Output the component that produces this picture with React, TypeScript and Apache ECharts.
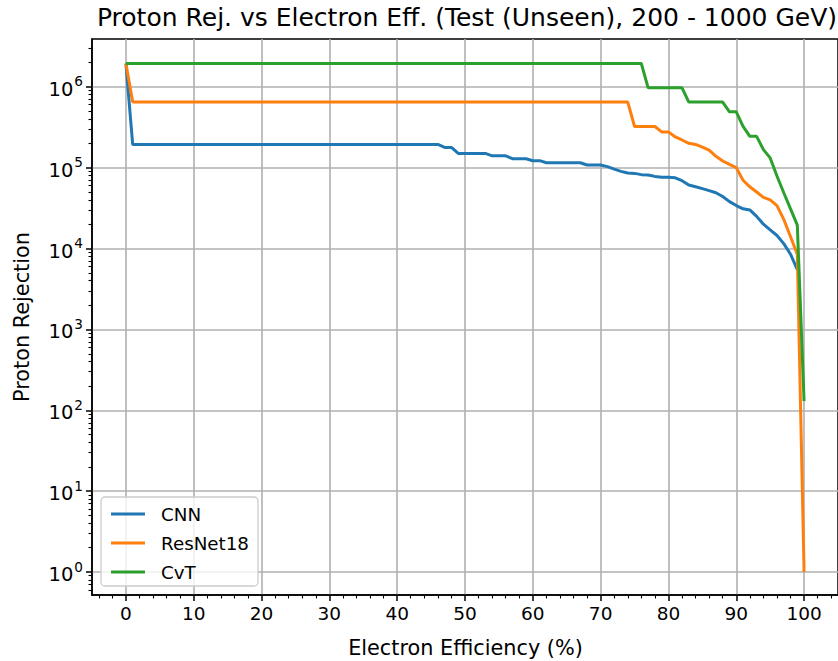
import React, { useEffect, useRef } from 'react';
import * as echarts from 'echarts';

const titleText = 'Proton Rej. vs Electron Eff. (Test (Unseen), 200 - 1000 GeV)';
const xName = 'Electron Efficiency (%)';
const yName = 'Proton Rejection';
const seriesNames = ['CNN', 'ResNet18', 'CvT'];
const seriesColors = ['#1f77b4', '#ff7f0e', '#2ca02c'];

// [electron efficiency %, proton rejection]
const cnnPoints = [
  [0, 1.94e6], [1, 1.94e5], [46, 1.94e5], [47, 1.78e5], [48, 1.78e5], [49, 1.5e5],
  [53, 1.5e5], [54, 1.4e5], [56, 1.4e5], [57, 1.29e5], [59, 1.29e5], [60, 1.22e5],
  [61, 1.22e5], [62, 1.15e5], [67, 1.15e5], [68, 1.08e5], [70, 1.08e5], [71, 1.03e5],
  [72, 9.6e4], [73, 9.0e4], [74, 8.6e4], [75, 8.5e4], [76, 8.2e4], [77, 8.1e4],
  [78, 7.8e4], [79, 7.6e4], [80, 7.6e4], [81, 7.5e4], [82, 6.9e4], [83, 6.1e4],
  [84, 5.8e4], [85, 5.5e4], [86, 5.2e4], [87, 4.9e4], [88, 4.4e4], [89, 3.8e4],
  [90, 3.4e4], [91, 3.1e4], [92, 3.0e4], [93, 2.5e4], [94, 2.0e4], [95, 1.7e4],
  [96, 1.45e4], [97, 1.15e4], [98, 8.5e3], [99, 5.5e3],
];
const resnetPoints = [
  [0, 1.94e6], [1, 6.47e5], [74, 6.47e5], [75, 3.23e5], [78, 3.23e5], [79, 2.77e5],
  [80, 2.77e5], [81, 2.4e5], [82, 2.2e5], [83, 2.0e5], [84, 1.94e5], [85, 1.8e5],
  [86, 1.65e5], [87, 1.38e5], [88, 1.21e5], [89, 1.1e5], [90, 1.0e5], [91, 7.0e4],
  [92, 5.8e4], [93, 5.0e4], [94, 4.3e4], [95, 4.0e4], [96, 3.4e4], [97, 2.3e4],
  [98, 1.4e4], [99, 8.5e3], [100, 1],
];
const cvtPoints = [
  [0, 1.94e6], [76, 1.94e6], [77, 9.7e5], [82, 9.7e5], [83, 6.47e5], [88, 6.47e5],
  [89, 4.9e5], [90, 4.9e5], [91, 3.24e5], [92, 2.44e5], [93, 2.44e5], [94, 1.67e5],
  [95, 1.32e5], [96, 7.9e4], [97, 4.9e4], [98, 3.1e4], [99, 1.95e4], [100, 130],
];

const xMajorTicks = [0, 10, 20, 30, 40, 50, 60, 70, 80, 90, 100];
const xMinorTicks = [-4, -2, 2, 4, 6, 8, 12, 14, 16, 18, 22, 24, 26, 28, 32, 34, 36, 38,
  42, 44, 46, 48, 52, 54, 56, 58, 62, 64, 66, 68, 72, 74, 76, 78, 82, 84, 86, 88,
  92, 94, 96, 98, 102, 104];
const yMajorTicks = [1, 10, 100, 1000, 1e4, 1e5, 1e6];
const yMinorMultipliers = [2, 3, 4, 5, 6, 7, 8, 9];
const yDecades = [0.1, 1, 10, 100, 1000, 1e4, 1e5, 1e6];

const X_MIN = -5;
const X_MAX = 105;
const Y_MIN = 0.52;
const Y_MAX = 3.9e6;

const FONT = '"DejaVu Sans", sans-serif';

export default function App() {
  const ref = useRef<HTMLDivElement>(null);
  useEffect(() => {
    document.body.style.margin = '0';
    if (!ref.current) return;
    const chart = echarts.init(ref.current, null, { renderer: 'svg' });
    const yMinor: number[] = [];
    yDecades.forEach((d) => yMinorMultipliers.forEach((m) => {
      const v = d * m;
      if (v > Y_MIN && v < Y_MAX) yMinor.push(v);
    }));
    const seriesData = [cnnPoints, resnetPoints, cvtPoints];
    const option: any = {
      animation: false,
      backgroundColor: '#ffffff',
      textStyle: { fontFamily: FONT },
      grid: {
        left: 92, top: 39, width: 747, height: 556,
        show: true, borderColor: '#000', borderWidth: 1.5, backgroundColor: 'transparent',
      },
      xAxis: [
        {
          type: 'value', min: X_MIN, max: X_MAX, position: 'bottom',
          axisLine: { show: true, onZero: false, lineStyle: { color: '#000', width: 1.5 } },
          axisTick: { show: true, customValues: xMajorTicks, length: 6, lineStyle: { color: '#000', width: 1.5 } },
          axisLabel: {
            customValues: xMajorTicks, margin: 9, color: '#000', fontSize: 18.5, fontFamily: FONT,
          },
          splitLine: { show: true, lineStyle: { color: '#b0b0b0', width: 1.6 } },
        },
        {
          type: 'value', min: X_MIN, max: X_MAX, position: 'bottom', offset: 0,
          axisLine: { show: false, onZero: false },
          axisTick: { show: true, customValues: xMinorTicks, length: 3.5, lineStyle: { color: '#000', width: 1.1 } },
          axisLabel: { show: false },
          splitLine: { show: false },
        },
      ],
      yAxis: [
        {
          type: 'log', logBase: 10, min: Y_MIN, max: Y_MAX, position: 'left',
          axisLine: { show: true, onZero: false, lineStyle: { color: '#000', width: 1.5 } },
          axisTick: { show: true, customValues: yMajorTicks, length: 6, lineStyle: { color: '#000', width: 1.5 } },
          axisLabel: {
            customValues: yMajorTicks, margin: 9, color: '#000',
            formatter: (v: number) => '{b|10}{s|' + Math.round(Math.log10(v)) + '}',
            rich: {
              b: { fontSize: 19.5, fontFamily: FONT, color: '#000', lineHeight: 25, verticalAlign: 'bottom' },
              s: { fontSize: 13.6, fontFamily: FONT, color: '#000', lineHeight: 25, verticalAlign: 'top', padding: [0, 0, 0, 1] },
            },
          },
          splitLine: { show: true, lineStyle: { color: '#b0b0b0', width: 1.6 } },
        },
        {
          type: 'log', logBase: 10, min: Y_MIN, max: Y_MAX, position: 'left', offset: 0,
          axisLine: { show: false, onZero: false },
          axisTick: { show: true, customValues: yMinor, length: 3.5, lineStyle: { color: '#000', width: 1.1 } },
          axisLabel: { show: false },
          splitLine: { show: false },
        },
      ],
      legend: {
        orient: 'vertical', left: 101, top: 497,
        data: seriesNames,
        icon: 'rect',
        itemWidth: 34, itemHeight: 3, itemGap: 9,
        padding: [7, 9, 4, 10],
        backgroundColor: 'rgba(255,255,255,0.8)',
        borderColor: '#cccccc', borderWidth: 1.3, borderRadius: 4,
        textStyle: { fontSize: 18.3, lineHeight: 20, fontFamily: FONT, color: '#000', padding: [0, 0, 0, 11] },
      },
      series: seriesNames.map((name, i) => ({
        name, type: 'line', data: seriesData[i], xAxisIndex: 0, yAxisIndex: 0,
        symbol: 'none', showSymbol: false,
        lineStyle: { color: seriesColors[i], width: 3 },
        itemStyle: { color: seriesColors[i] },
      })),
      graphic: [
        {
          type: 'text', x: 467, y: 17,
          style: { text: titleText, fontSize: 25, fontFamily: FONT, fill: '#000', align: 'center', verticalAlign: 'middle' },
        },
        {
          type: 'text', x: 465.5, y: 648,
          style: { text: xName, fontSize: 20.8, fontFamily: FONT, fill: '#000', align: 'center', verticalAlign: 'middle' },
        },
        {
          type: 'text', x: 22, y: 317, rotation: Math.PI / 2,
          style: { text: yName, fontSize: 20.8, fontFamily: FONT, fill: '#000', align: 'center', verticalAlign: 'middle' },
        },
      ],
    };
    chart.setOption(option);
    return () => chart.dispose();
  }, []);
  return <div ref={ref} style={{ width: 838, height: 661 }} />;
}
